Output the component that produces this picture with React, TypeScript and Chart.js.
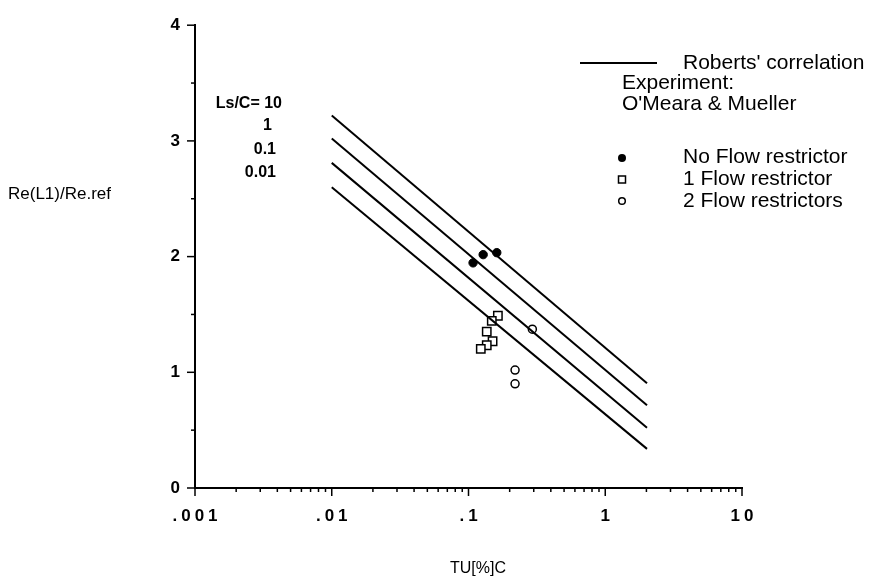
import React, { useEffect, useRef } from "react";
import { Chart, registerables } from "chart.js";

Chart.register(...registerables);

// Roberts' correlation lines (Ls/C = 10, 1, 0.1, 0.01): endpoints in TU[%]C
const robertsX = [0.01, 2.02];
const lsc10 = [3.22, 0.905];
const lsc1 = [3.02, 0.715];
const lsc01 = [2.81, 0.52];
const lsc001 = [2.6, 0.338];

// Experiment: O'Meara & Mueller
const noRestrictorX = [0.108, 0.128, 0.161];
const noRestrictorY = [1.946, 2.017, 2.034];
const oneRestrictorX = [0.164, 0.148, 0.136, 0.15, 0.136, 0.123];
const oneRestrictorY = [1.489, 1.444, 1.351, 1.268, 1.234, 1.203];
const twoRestrictorX = [0.293, 0.219, 0.219];
const twoRestrictorY = [1.373, 1.019, 0.9];

const xTickValues = [0.001, 0.01, 0.1, 1, 10];
const xTickLabels = [".001", ".01", ".1", "1", "10"];
const lsLabels = ["Ls/C= 10", "1", "0.1", "0.01"];

const FONT = "'Liberation Sans', Arial, Helvetica, sans-serif";

const zip = (xs: number[], ys: number[]) => xs.map((x, i) => ({ x, y: ys[i] }));

const lineDs = (ys: number[]) => ({
  type: "line" as const,
  data: zip(robertsX, ys),
  borderColor: "#000",
  borderWidth: 2,
  pointRadius: 0,
  fill: false,
  tension: 0,
  showLine: true,
});

const annotPlugin = {
  id: "annot",
  afterDraw(chart: any) {
    const ctx: CanvasRenderingContext2D = chart.ctx;
    const xs = chart.scales.x;
    const ys = chart.scales.y;
    const area = chart.chartArea;
    ctx.save();
    ctx.strokeStyle = "#000";
    ctx.fillStyle = "#000";
    ctx.lineWidth = 1.5;
    // y ticks
    for (let v = 0; v <= 4.001; v += 0.5) {
      const py = ys.getPixelForValue(v);
      const len = Math.abs(v - Math.round(v)) < 1e-6 ? 8 : 4;
      ctx.beginPath();
      ctx.moveTo(area.left - len, py);
      ctx.lineTo(area.left, py);
      ctx.stroke();
    }
    // x ticks
    for (let d = -3; d <= 0; d++) {
      for (let k = 1; k <= 9; k++) {
        const px = xs.getPixelForValue(k * Math.pow(10, d));
        const len = k === 1 ? 8 : 4;
        ctx.beginPath();
        ctx.moveTo(px, area.bottom);
        ctx.lineTo(px, area.bottom + len);
        ctx.stroke();
      }
    }
    {
      const px = xs.getPixelForValue(10);
      ctx.beginPath();
      ctx.moveTo(px, area.bottom);
      ctx.lineTo(px, area.bottom + 8);
      ctx.stroke();
    }
    // x tick labels
    ctx.font = `bold 17px ${FONT}`;
    ctx.textAlign = "center";
    ctx.textBaseline = "middle";
    (ctx as any).letterSpacing = "4px";
    xTickValues.forEach((v, i) => {
      const px = xs.getPixelForValue(v);
      ctx.fillText(xTickLabels[i], px + 2, area.bottom + 28);
    });
    (ctx as any).letterSpacing = "0px";

    // axis titles
    ctx.font = `17px ${FONT}`;
    ctx.textAlign = "left";
    ctx.fillText("Re(L1)/Re.ref", 8, 194);
    ctx.textAlign = "center";
    ctx.font = `16px ${FONT}`;
    ctx.fillText("TU[%]C", 478, 569);

    // Ls/C annotations
    ctx.font = `bold 16px ${FONT}`;
    ctx.textAlign = "right";
    const lsPos = [
      [282, 103.5],
      [272, 126],
      [276, 150],
      [276, 173],
    ];
    lsLabels.forEach((t, i) => ctx.fillText(t, lsPos[i][0], lsPos[i][1]));

    // legend
    ctx.lineWidth = 2;
    ctx.beginPath();
    ctx.moveTo(580, 63);
    ctx.lineTo(657, 63);
    ctx.stroke();
    ctx.font = `21px ${FONT}`;
    ctx.textAlign = "left";
    ctx.fillText("Roberts' correlation", 683, 63);
    ctx.fillText("Experiment:", 622, 83);
    ctx.fillText("O'Meara & Mueller", 622, 104);
    ctx.fillText("No Flow restrictor", 683, 157);
    ctx.fillText("1 Flow restrictor", 683, 179);
    ctx.fillText("2 Flow restrictors", 683, 201);
    ctx.lineWidth = 1.5;
    ctx.beginPath();
    ctx.arc(622, 158, 4, 0, Math.PI * 2);
    ctx.fill();
    ctx.strokeRect(618.5, 176, 7, 7);
    ctx.beginPath();
    ctx.arc(622, 201, 3.3, 0, Math.PI * 2);
    ctx.stroke();
    ctx.restore();
  },
};

export default function App() {
  const ref = useRef<HTMLCanvasElement>(null);
  useEffect(() => {
    if (!ref.current) return;
    const chart = new Chart(ref.current, {
      type: "scatter",
      data: {
        datasets: [
          lineDs(lsc10),
          lineDs(lsc1),
          lineDs(lsc01),
          lineDs(lsc001),
          {
            data: zip(noRestrictorX, noRestrictorY),
            pointStyle: "circle",
            pointRadius: 4.2,
            backgroundColor: "#000",
            borderColor: "#000",
            borderWidth: 1,
          },
          {
            data: zip(oneRestrictorX, oneRestrictorY),
            pointStyle: "rect",
            pointRadius: 5.9,
            backgroundColor: "#fff",
            borderColor: "#000",
            borderWidth: 1.5,
          },
          {
            data: zip(twoRestrictorX, twoRestrictorY),
            pointStyle: "circle",
            pointRadius: 4,
            backgroundColor: "#fff",
            borderColor: "#000",
            borderWidth: 1.5,
          },
        ] as any,
      },
      options: {
        responsive: false,
        animation: false,
        layout: { padding: { left: 0, right: 131, top: 18, bottom: 0 } },
        plugins: { legend: { display: false }, tooltip: { enabled: false } },
        scales: {
          x: {
            type: "logarithmic",
            min: 0.001,
            max: 10,
            grid: { display: false, drawTicks: false },
            border: { display: true, color: "#000", width: 2 },
            ticks: { display: false },
            afterFit: (s: any) => {
              s.height = 96;
            },
          },
          y: {
            min: 0,
            max: 4,
            grid: { display: false, drawTicks: false },
            border: { display: true, color: "#000", width: 2 },
            ticks: {
              stepSize: 1,
              padding: 15,
              color: "#000",
              font: { family: FONT, size: 17, weight: "bold" },
            },
            afterFit: (s: any) => {
              s.width = 195;
            },
          },
        },
      },
      plugins: [annotPlugin],
    });
    return () => chart.destroy();
  }, []);
  return (
    <div style={{ position: "fixed", left: 0, top: 0, width: 873, height: 584, background: "#fff" }}>
      <canvas ref={ref} width={873} height={584} style={{ width: 873, height: 584 }} />
    </div>
  );
}
